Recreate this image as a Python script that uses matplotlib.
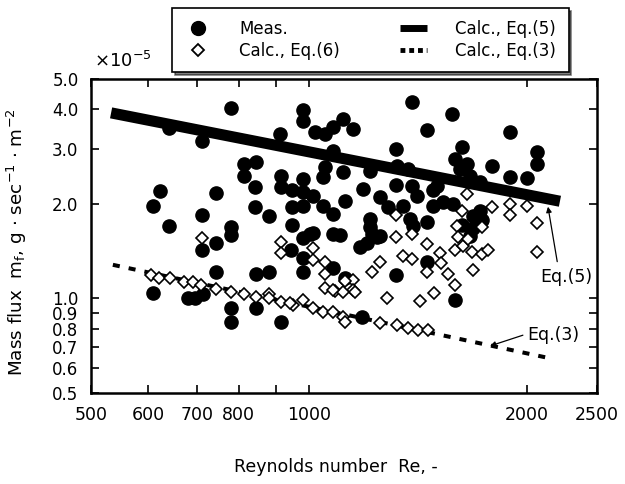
import matplotlib
matplotlib.use('Agg')
from matplotlib import pyplot as plt
from matplotlib.lines import Line2D
from matplotlib.ticker import NullLocator

# measured mass flux (x 1e-5), filled circles
meas_re = [641, 712, 780, 912, 813, 813, 845, 623, 609, 641,
           712, 744, 842, 842, 881, 780, 780, 915, 915, 948,
           948, 948, 744, 712, 744, 845, 881, 609, 681, 696,
           714, 780, 780, 845, 915, 944, 981, 981, 1019, 1052,
           1080, 1114, 1150, 1080, 1319, 1388, 1576, 1456, 1052, 1046,
           1114, 1214, 1323, 1370, 981, 1187, 1319, 1388, 1502, 981,
           1013, 981, 1046, 1080, 1121, 1253, 1286, 1349, 1410, 1484,
           1531, 1214, 1214, 1222, 1379, 1392, 1456, 1003, 1080, 1253,
           981, 1202, 1241, 981, 981, 1080, 1121, 1319, 1456, 1591,
           1183, 1013, 1176, 1104, 1896, 2066, 2066, 1627, 1591, 1789,
           1896, 2001, 1617, 1669, 1723, 1723, 1734, 1627, 1685, 1669,
           1581, 1484, 1685, 1653]
meas_m = [3.49, 3.17, 4.04, 3.34, 2.68, 2.45, 2.72, 2.20, 1.97, 1.70,
          1.84, 2.17, 2.26, 1.96, 1.83, 1.69, 1.59, 2.45, 2.26, 2.21,
          1.96, 1.71, 1.50, 1.43, 1.21, 1.20, 1.21, 1.04, 1.00, 1.00,
          1.03, 0.93, 0.84, 0.93, 0.84, 1.43, 3.98, 3.67, 3.39, 3.34,
          3.52, 3.73, 3.46, 2.95, 2.99, 4.23, 3.87, 3.44, 2.62, 2.44,
          2.53, 2.55, 2.64, 2.58, 2.40, 2.23, 2.30, 2.28, 2.28, 2.18,
          2.12, 1.97, 1.97, 1.86, 2.04, 2.10, 1.96, 1.97, 2.12, 1.97,
          2.03, 1.79, 1.69, 1.60, 1.79, 1.70, 1.75, 1.60, 1.60, 1.58,
          1.56, 1.50, 1.57, 1.35, 1.21, 1.25, 1.16, 1.19, 1.31, 0.99,
          0.87, 1.62, 1.46, 1.59, 3.39, 2.93, 2.68, 3.04, 2.78, 2.64,
          2.44, 2.42, 2.58, 2.45, 2.35, 1.90, 1.78, 1.71, 1.68, 1.58,
          2.00, 2.21, 1.83, 2.68]

# calculated by Eq.(6), open diamonds
eq6_re = [605, 621, 643, 672, 692, 710, 744, 780, 813, 845,
          881, 881, 915, 951, 981, 1013, 1046, 1080, 1114, 1121,
          1253, 1323, 1370, 1415, 1460, 942, 712, 915, 915, 1013,
          1013, 1052, 1052, 1052, 1086, 1150, 1150, 1121, 1114, 1319,
          1388, 1456, 1349, 1388, 1253, 1222, 1517, 1522, 1456, 1556,
          1591, 1632, 1679, 1734, 1767, 1685, 1591, 1488, 1424, 1282,
          2066, 2066, 1319, 1601, 1653, 1627, 1789, 1896, 1896, 2001,
          1734, 1606, 1658, 1158, 1080]
eq6_m = [1.19, 1.16, 1.16, 1.13, 1.13, 1.10, 1.07, 1.05, 1.03, 1.01,
         1.03, 1.00, 0.975, 0.953, 0.99, 0.933, 0.906, 0.906, 0.873, 0.841,
         0.835, 0.823, 0.805, 0.794, 0.794, 0.968, 1.56, 1.51, 1.40, 1.45,
         1.33, 1.31, 1.20, 1.08, 1.056, 1.145, 1.064, 1.137, 1.049, 1.57,
         1.60, 1.49, 1.37, 1.34, 1.31, 1.21, 1.40, 1.30, 1.21, 1.20,
         1.43, 1.47, 1.41, 1.39, 1.43, 1.23, 1.104, 1.041, 0.982, 1.003,
         1.41, 1.74, 1.84, 1.70, 2.15, 1.90, 1.96, 2.00, 1.84, 1.97,
         1.69, 1.57, 1.55, 1.049, 1.064]

# Eq.(5) and Eq.(3) lines
eq5_re = [533, 2222]
eq5_m = [3.90, 2.04]
eq3_re = [536, 2173]
eq3_m = [1.28, 0.642]

x_ticks = [500, 600, 700, 800, 900, 1000, 2000, 2500]
x_labels = ['500', '600', '700', '800', '', '1000', '2000', '2500']
y_ticks = [0.5, 0.6, 0.7, 0.8, 0.9, 1.0, 2.0, 3.0, 4.0, 5.0]
y_labels = ['0.5', '0.6', '0.7', '0.8', '0.9', '1.0', '2.0', '3.0', '4.0', '5.0']

plt.rcParams['font.family'] = ['DejaVu Sans']

fig = plt.figure(figsize=(6.25, 4.84), dpi=100)
ax = fig.add_axes([0.1456, 0.188, 0.8096, 0.6488])
ax.set_xscale('log')
ax.set_yscale('log')

ax.plot(eq5_re, eq5_m, color='black', lw=8, solid_capstyle='butt', zorder=3)
ax.plot(eq3_re, eq3_m, color='black', lw=2.9, dashes=(1.75, 2.25),
        dash_capstyle='butt', zorder=3)
ax.plot(meas_re, meas_m, 'o', ms=9.5, color='black', zorder=4)
ax.plot(eq6_re, eq6_m, 'D', ms=6.3, mfc='white', mec='black', mew=1.2, zorder=5)

ax.set_xlim(500, 2500)
ax.set_ylim(0.5, 5.0)
ax.set_xticks(x_ticks, x_labels)
ax.set_yticks(y_ticks, y_labels)
ax.xaxis.set_minor_locator(NullLocator())
ax.yaxis.set_minor_locator(NullLocator())
ax.tick_params(direction='in', top=True, right=True, length=6, width=1.2,
               labelsize=12)
ax.tick_params(axis='x', pad=9, labelsize=12.5)
ax.tick_params(axis='y', pad=9)
for s in ax.spines.values():
    s.set_linewidth(1.8)

# arrows to the lines
ax.text(2086, 1.17, 'Eq.(5)', ha='left', va='center', fontsize=12.5)
ax.annotate('', xy=(2139, 1.96), xytext=(2203, 1.31),
            arrowprops=dict(arrowstyle='-|>', color='black', lw=0.9,
                            mutation_scale=8, shrinkA=0, shrinkB=0))
ax.text(2001, 0.766, 'Eq.(3)', ha='left', va='center', fontsize=12.5)
ax.annotate('', xy=(1779, 0.706), xytext=(1975, 0.764),
            arrowprops=dict(arrowstyle='-|>', color='black', lw=0.9,
                            mutation_scale=8, shrinkA=0, shrinkB=0))

fig.text(0.150, 0.874, r'$\times10^{-5}$', ha='left', va='center', fontsize=13)
fig.text(0.027, 0.50, r'Mass flux  $\mathrm{m_f}$, g $\cdot$ sec$^{-1}$ $\cdot$ m$^{-2}$',
         rotation=90, ha='center', va='center', fontsize=13.2)
fig.text(0.537, 0.036, 'Reynolds number  Re, -', ha='center', va='center',
         fontsize=12.5)

h1 = Line2D([], [], ls='none', marker='o', ms=10, color='black')
h2 = Line2D([], [], ls='none', marker='D', ms=6.5, mfc='white', mec='black', mew=1.3)
h3 = Line2D([], [], color='black', lw=5, solid_capstyle='butt')
h4 = Line2D([], [], color='black', lw=3.5, dashes=(1, 0.8), dash_capstyle='butt')
leg = fig.legend([h1, h2, h3, h4],
                 ['Meas.', 'Calc., Eq.(6)', 'Calc., Eq.(5)', 'Calc., Eq.(3)'],
                 ncol=2, loc='upper left',
                 bbox_to_anchor=(0.275, 0.984),
                 borderaxespad=0, fancybox=False, edgecolor='black',
                 framealpha=1, shadow={'color': 'black'},
                 fontsize=12, handlelength=1.6, handletextpad=1.7,
                 columnspacing=3.6, borderpad=0.75, labelspacing=0.2)
leg.get_frame().set_linewidth(1.2)

plt.savefig('out.png', dpi=100)
